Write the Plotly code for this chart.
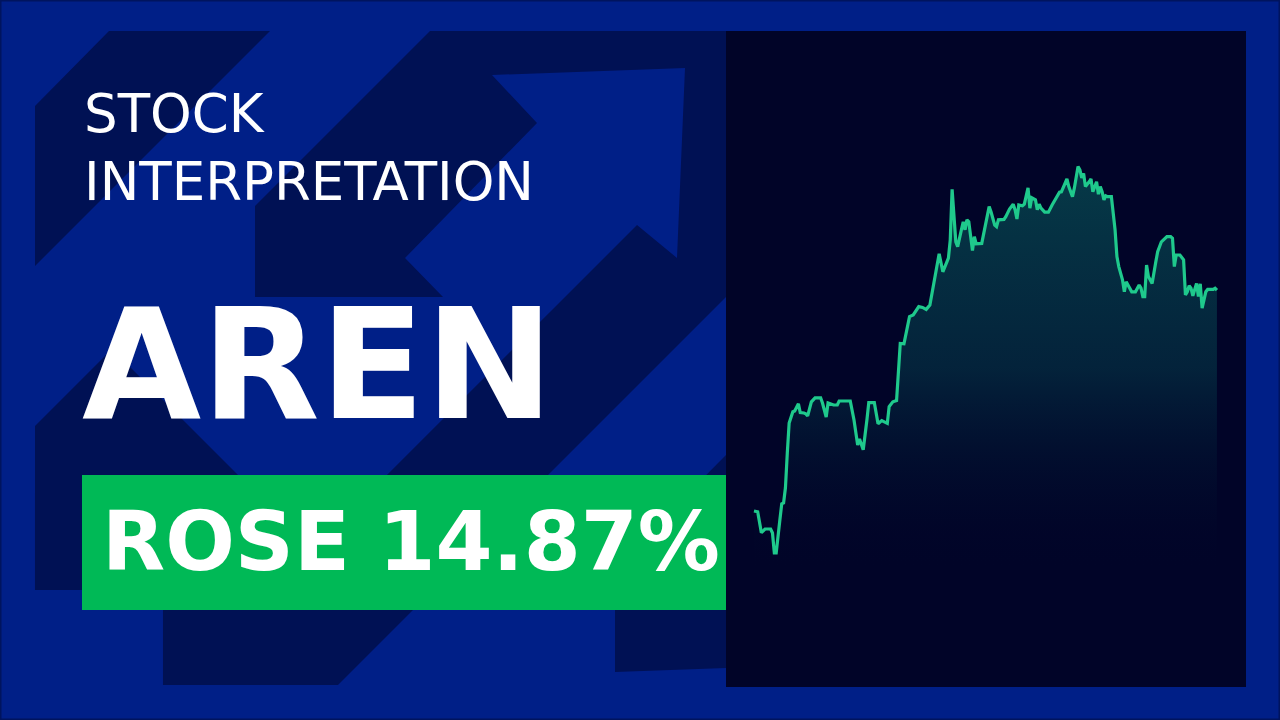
import plotly.graph_objects as go

W, H = 1280, 720

# ---- data (trading day index, closing price) ----
days = [0, 2, 4, 6, 9, 10, 11, 12, 14, 15,
        16, 17, 18, 19, 21, 22, 24, 25, 27, 28,
        29, 31, 33, 36, 37, 39, 40, 43, 45, 46,
        50, 52, 54, 56, 57, 59, 61, 62, 65, 67,
        69, 72, 73, 75, 77, 78, 79, 81, 83, 84,
        86, 89, 91, 93, 95, 98, 100, 102, 104, 105,
        106, 107, 109, 110, 112, 113, 114, 115, 116, 117,
        118, 119, 120, 123, 125, 127, 128, 130, 131, 132,
        135, 136, 138, 140, 141, 142, 143, 145, 146, 148,
        149, 150, 152, 153, 154, 155, 157, 159, 161, 163,
        165, 166, 168, 169, 170, 172, 173, 175, 176, 177,
        178, 179, 181, 182, 183, 185, 186, 187, 188, 189,
        190, 191, 193, 195, 196, 197, 199, 200, 201, 203,
        204, 206, 208, 209, 210, 211, 212, 213, 215, 217,
        218, 220, 221, 223, 225, 226, 227, 228, 230, 232,
        233, 234, 235, 236, 237, 239, 240, 241, 242, 244,
        245, 248, 249, 250]

prices = [3.715, 3.713, 3.661, 3.670, 3.670, 3.660, 3.610, 3.610, 3.693, 3.733,
          3.735, 3.773, 3.860, 3.935, 3.963, 3.965, 3.983, 3.961, 3.960, 3.958,
          3.953, 3.988, 3.998, 3.998, 3.985, 3.950, 3.985, 3.980, 3.980, 3.990,
          3.990, 3.990, 3.943, 3.880, 3.895, 3.868, 3.943, 3.986, 3.986, 3.933,
          3.941, 3.934, 3.976, 3.988, 3.991, 4.051, 4.134, 4.133, 4.176, 4.201,
          4.205, 4.226, 4.224, 4.219, 4.230, 4.309, 4.358, 4.313, 4.338, 4.347,
          4.393, 4.519, 4.388, 4.376, 4.418, 4.438, 4.418, 4.443, 4.438, 4.401,
          4.366, 4.401, 4.383, 4.384, 4.430, 4.476, 4.463, 4.430, 4.426, 4.443,
          4.444, 4.451, 4.470, 4.482, 4.468, 4.445, 4.480, 4.478, 4.482, 4.523,
          4.472, 4.498, 4.493, 4.468, 4.482, 4.472, 4.462, 4.462, 4.480, 4.498,
          4.512, 4.513, 4.534, 4.545, 4.526, 4.501, 4.522, 4.576, 4.568, 4.548,
          4.559, 4.526, 4.538, 4.545, 4.513, 4.538, 4.507, 4.526, 4.513, 4.493,
          4.503, 4.501, 4.501, 4.418, 4.351, 4.326, 4.293, 4.263, 4.288, 4.272,
          4.263, 4.263, 4.280, 4.272, 4.251, 4.251, 4.330, 4.301, 4.284, 4.338,
          4.363, 4.388, 4.393, 4.401, 4.401, 4.397, 4.326, 4.355, 4.355, 4.343,
          4.255, 4.263, 4.278, 4.272, 4.253, 4.284, 4.251, 4.283, 4.222, 4.263,
          4.269, 4.269, 4.272, 4.267]

if len(days) != len(prices):
    raise ValueError(f"length mismatch {len(days)} vs {len(prices)}")

title_lines = ["STOCK", "INTERPRETATION"]
ticker = "AREN"
change_label = "ROSE 14.87%"

# ---- style ----
BG = "#001f87"
DARK = "#001154"
PANEL = "#010428"
LINE = "#1fc98c"
GREEN = "#00b956"
FONT = "DejaVu Sans"


def P(x, y):
    return x / W, 1 - y / H


def path(pts):
    parts = []
    for i, (x, y) in enumerate(pts):
        px, py = P(x, y)
        parts.append(("M" if i == 0 else "L") + f"{px:.5f},{py:.5f}")
    return " ".join(parts) + " Z"


# decorative background arrows (pixel outline -> paper coords)
dark_polys = [
    [(35, 106), (109, 31), (270, 31), (35, 266)],
    [(430, 31), (726, 31), (726, 297), (338, 685), (163, 685), (163, 600),
     (387, 475), (565, 297), (255, 297), (255, 206)],
    [(112, 349), (35, 426), (35, 590), (353, 590)],
    [(726, 455), (615, 567), (615, 672), (726, 668)],
]
blue_arrow = [(685, 68), (492, 75), (537, 123), (405, 258), (443, 297),
              (565, 297), (637, 225), (677, 258)]

shapes = []
for poly in dark_polys:
    shapes.append(dict(type="path", xref="paper", yref="paper", path=path(poly),
                       fillcolor=DARK, line=dict(width=0), layer="below"))
shapes.append(dict(type="path", xref="paper", yref="paper", path=path(blue_arrow),
                   fillcolor=BG, line=dict(width=0), layer="below"))
# green label box
gx0, gy1 = P(82, 475)
gx1, gy0 = P(726, 610)
shapes.append(dict(type="rect", xref="paper", yref="paper", x0=gx0, x1=gx1, y0=gy0, y1=gy1,
                   fillcolor=GREEN, line=dict(width=0), layer="below"))
# thin frame
shapes.append(dict(type="rect", xref="paper", yref="paper", x0=0, x1=1, y0=0, y1=1,
                   fillcolor="rgba(0,0,0,0)", line=dict(width=3, color="#00145e"),
                   layer="above"))

fig = go.Figure()
fig.add_trace(go.Scatter(
    x=days, y=prices, mode="lines",
    line=dict(color=LINE, width=3.2),
    fill="tozeroy",
    fillgradient=dict(type="vertical", start=3.56, stop=4.58,
                      colorscale=[[0, "rgba(1,4,40,0)"], [0.5, "rgba(4,40,62,0.85)"],
                                  [1, "rgba(6,58,72,1)"]]),
    hoverinfo="skip",
))

px0, py1 = P(726, 31)
px1, py0 = P(1246, 687)

annotations = []
annotations.append(dict(text=title_lines[0], x=82 / W, y=1 - 113 / H, xref="paper", yref="paper",
                        xanchor="left", yanchor="middle", showarrow=False,
                        font=dict(family=FONT, size=53, color="white")))
annotations.append(dict(text=title_lines[1], x=82 / W, y=1 - 181 / H, xref="paper", yref="paper",
                        xanchor="left", yanchor="middle", showarrow=False,
                        font=dict(family=FONT, size=53, color="white")))
annotations.append(dict(text=ticker, x=80 / W, y=1 - 364 / H, xref="paper", yref="paper",
                        xanchor="left", yanchor="middle", showarrow=False,
                        font=dict(family=FONT, size=154, color="white", weight="bold")))
annotations.append(dict(text=change_label, x=100 / W, y=1 - 541 / H, xref="paper", yref="paper",
                        xanchor="left", yanchor="middle", showarrow=False,
                        font=dict(family=FONT, size=82, color="white", weight="bold")))

fig.update_layout(
    width=W, height=H,
    margin=dict(l=0, r=0, t=0, b=0),
    paper_bgcolor=BG,
    plot_bgcolor=PANEL,
    showlegend=False,
    shapes=shapes,
    annotations=annotations,
    xaxis=dict(domain=[px0, px1], range=[-15.1, 265.7], visible=False, fixedrange=True),
    yaxis=dict(domain=[py0, py1], range=[3.275, 4.915], visible=False, fixedrange=True),
)

fig.write_html("out.html", config=dict(displayModeBar=False),
               post_script="document.body.style.margin='0';")
